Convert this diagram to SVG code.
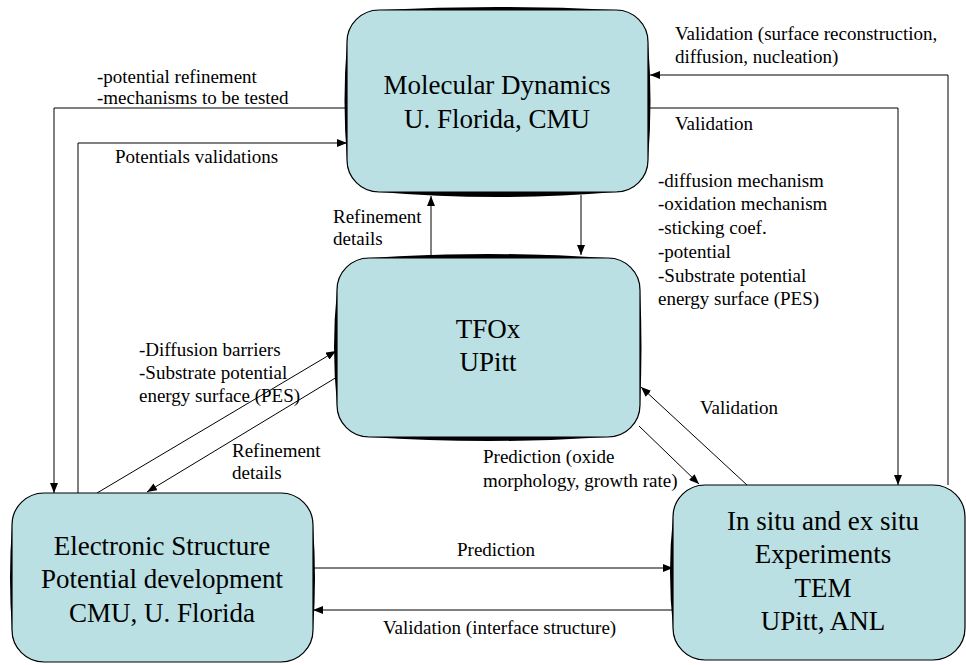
<svg xmlns="http://www.w3.org/2000/svg" width="966" height="665" viewBox="0 0 966 665">
  <style>
    .box { fill: #bae0e3; stroke: #000; stroke-width: 1.2; }
    .rim { fill: #000; }
    text { font-family: 'Liberation Serif', 'Times New Roman', serif; fill: #000; }
    .title { font-size: 27px; text-anchor: middle; }
    .lbl { font-size: 19px; }
    .edge { fill: none; stroke: #000; stroke-width: 1; }
  </style>
  <defs>
    <marker id="arr" viewBox="0 0 10 8" refX="10" refY="4" markerWidth="10" markerHeight="8" markerUnits="userSpaceOnUse" orient="auto">
      <path d="M0,0 L10,4 L0,8 Z" fill="#000"/>
    </marker>
  </defs>
  <rect width="966" height="665" fill="#fff"/>

  <!-- connectors -->
  <g id="connectors">
    <!-- MD -> ES (potential refinement) -->
    <polyline class="edge" points="347,108 54,108 54,493" marker-end="url(#arr)"/>
    <!-- ES -> MD (potentials validations) -->
    <polyline class="edge" points="78,493 78,143 347,143" marker-end="url(#arr)"/>
    <!-- Experiments -> MD (surface reconstruction) -->
    <polyline class="edge" points="948,485 948,75 650,75" marker-end="url(#arr)"/>
    <!-- MD -> Experiments (validation) -->
    <polyline class="edge" points="648,108 898,108 898,485" marker-end="url(#arr)"/>
    <!-- MD -> TFOx -->
    <line class="edge" x1="581" y1="195" x2="581" y2="255" marker-end="url(#arr)"/>
    <!-- TFOx -> MD -->
    <line class="edge" x1="431" y1="256" x2="431" y2="196" marker-end="url(#arr)"/>
    <!-- ES -> TFOx -->
    <line class="edge" x1="97" y1="493" x2="336" y2="351" marker-end="url(#arr)"/>
    <!-- TFOx -> ES -->
    <line class="edge" x1="337" y1="377" x2="147" y2="492" marker-end="url(#arr)"/>
    <!-- TFOx -> Experiments -->
    <line class="edge" x1="639" y1="426" x2="699" y2="484" marker-end="url(#arr)"/>
    <!-- Experiments -> TFOx -->
    <line class="edge" x1="747" y1="485" x2="641" y2="387" marker-end="url(#arr)"/>
    <!-- ES -> Experiments -->
    <line class="edge" x1="313" y1="568" x2="673" y2="568" marker-end="url(#arr)"/>
    <!-- Experiments -> ES -->
    <line class="edge" x1="673" y1="610" x2="313" y2="610" marker-end="url(#arr)"/>
  </g>

  <!-- connector labels -->
  <g id="labels">
    <text class="lbl" x="97" y="83">-potential refinement</text>
    <text class="lbl" x="97" y="104">-mechanisms to be tested</text>
    <text class="lbl" x="115" y="163">Potentials validations</text>
    <text class="lbl" x="675" y="40">Validation (surface reconstruction,</text>
    <text class="lbl" x="675" y="63">diffusion, nucleation)</text>
    <text class="lbl" x="675" y="130">Validation</text>
    <text class="lbl" x="658" y="187">-diffusion mechanism</text>
    <text class="lbl" x="658" y="210">-oxidation mechanism</text>
    <text class="lbl" x="658" y="234">-sticking coef.</text>
    <text class="lbl" x="658" y="258">-potential</text>
    <text class="lbl" x="658" y="282">-Substrate potential</text>
    <text class="lbl" x="658" y="305">energy surface (PES)</text>
    <text class="lbl" x="333" y="223">Refinement</text>
    <text class="lbl" x="333" y="245">details</text>
    <text class="lbl" x="139" y="356">-Diffusion barriers</text>
    <text class="lbl" x="139" y="379">-Substrate potential</text>
    <text class="lbl" x="139" y="402">energy surface (PES)</text>
    <text class="lbl" x="232" y="457">Refinement</text>
    <text class="lbl" x="232" y="479">details</text>
    <text class="lbl" x="483" y="463">Prediction (oxide</text>
    <text class="lbl" x="483" y="487">morphology, growth rate)</text>
    <text class="lbl" x="700" y="414">Validation</text>
    <text class="lbl" x="457" y="556">Prediction</text>
    <text class="lbl" x="383" y="634">Validation (interface structure)</text>
  </g>

  <!-- Molecular Dynamics -->
  <g id="md">
    <path class="rim" d="M379,10 Q497,4 616,10 A32,32 0 0 1 648,42 Q653,101 648,160 A32,32 0 0 1 616,192 Q497,202 379,192 A32,32 0 0 1 347,160 Q342,101 347,42 A32,32 0 0 1 379,10 Z"/>
    <rect class="box" x="347" y="10" width="301" height="182" rx="32" ry="32"/>
    <text class="title" x="497" y="94">Molecular Dynamics</text>
    <text class="title" x="497" y="128">U. Florida, CMU</text>
  </g>

  <!-- TFOx -->
  <g id="tfox">
    <path class="rim" d="M369,258 Q488,250 608,258 A32,32 0 0 1 640,290 Q643,347 640,405 A32,32 0 0 1 608,437 Q488,445 369,437 A32,32 0 0 1 337,405 Q331,347 337,290 A32,32 0 0 1 369,258 Z"/>
    <rect class="box" x="337" y="258" width="303" height="179" rx="32" ry="32"/>
    <text class="title" x="488" y="338">TFOx</text>
    <text class="title" x="488" y="371">UPitt</text>
  </g>

  <!-- Electronic Structure -->
  <g id="es">
    <path class="rim" d="M44,493 L281,493 A32,32 0 0 1 313,525 Q317,579 313,630 A32,32 0 0 1 281,662 L44,662 A32,32 0 0 1 12,630 Q8,579 12,525 A32,32 0 0 1 44,493 Z"/>
    <rect class="box" x="12" y="493" width="301" height="169" rx="32" ry="32"/>
    <text class="title" x="162" y="555">Electronic Structure</text>
    <text class="title" x="162" y="588">Potential development</text>
    <text class="title" x="162" y="622">CMU, U. Florida</text>
  </g>

  <!-- Experiments -->
  <g id="exp">
    <path class="rim" d="M705,485 L933,485 A32,32 0 0 1 965,517 L965,628 A32,32 0 0 1 933,660 L705,660 A32,32 0 0 1 673,628 Q667,572 673,517 A32,32 0 0 1 705,485 Z"/>
    <rect class="box" x="673" y="485" width="292" height="175" rx="32" ry="32"/>
    <text class="title" x="823" y="530">In situ and ex situ</text>
    <text class="title" x="823" y="563">Experiments</text>
    <text class="title" x="823" y="597">TEM</text>
    <text class="title" x="823" y="630">UPitt, ANL</text>
  </g>
</svg>
